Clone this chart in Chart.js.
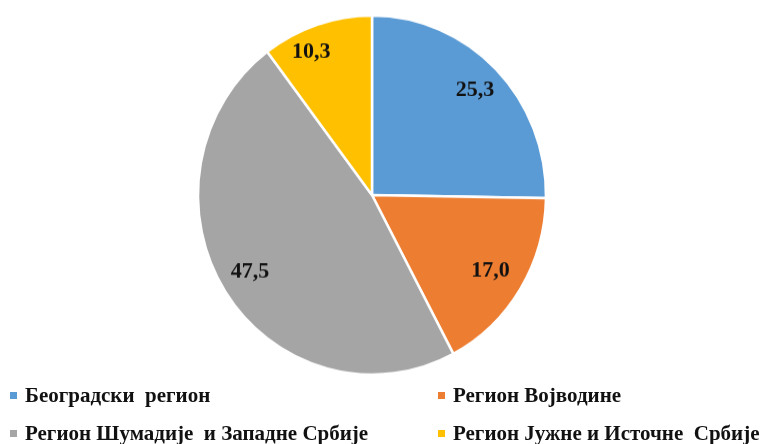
<!DOCTYPE html>
<html>
<head>
<meta charset="utf-8">
<script src="https://cdn.jsdelivr.net/npm/chart.js@4"></script>
<style>
  html, body { margin: 0; padding: 0; background: #fff; }
  #wrap { position: relative; width: 768px; height: 444px; overflow: hidden; }
  #pieBox { position: absolute; left: 0; top: 0; width: 768px; height: 430px;
            transform: scaleY(1.032); transform-origin: 0 0; }
  #c { display: block; }
  .lg { position: absolute; font: bold 21px "Liberation Serif", "Times New Roman", serif;
        color: #111; line-height: 21px; white-space: pre; }
  .sw { position: absolute; width: 7px; height: 7px; }
</style>
</head>
<body>
<div id="wrap">
  <div id="pieBox"><canvas id="c" width="768" height="430"></canvas></div>
  <div id="legend"></div>
</div>
<script>
// Regional shares, %
const regions = ['Београдски  регион', 'Регион Војводине', 'Регион Шумадије  и Западне Србије', 'Регион Јужне и Источне  Србије'];
const shares = [25.3, 17.0, 47.5, 10.3];
const colors = ['#5B9BD5', '#ED7D31', '#A5A5A5', '#FFC000'];

// Value labels inside each slice
const sliceLabels = {
  id: 'sliceLabels',
  afterDatasetsDraw(chart, args, opts) {
    const ctx = chart.ctx;
    const meta = chart.getDatasetMeta(0);
    ctx.save();
    ctx.font = 'bold 22px "Liberation Serif", "Times New Roman", serif';
    ctx.fillStyle = '#111';
    ctx.textAlign = 'center';
    ctx.textBaseline = 'middle';
    meta.data.forEach((arc, i) => {
      const p = arc.getProps(['x', 'y', 'startAngle', 'endAngle', 'outerRadius'], true);
      const mid = (p.startAngle + p.endAngle) / 2 + opts.turn[i];
      const r = p.outerRadius * opts.factors[i];
      const txt = chart.data.datasets[0].data[i].toFixed(1).replace('.', ',');
      ctx.fillText(txt, p.x + Math.cos(mid) * r, p.y + Math.sin(mid) * r);
    });
    ctx.restore();
  }
};

new Chart(document.getElementById('c'), {
  type: 'pie',
  data: {
    labels: regions,
    datasets: [{
      data: shares,
      backgroundColor: colors,
      borderColor: '#ffffff',
      borderWidth: 2.5
    }]
  },
  options: {
    responsive: false,
    animation: false,
    devicePixelRatio: 1,
    radius: 174,
    layout: { padding: { left: 0, right: 24, top: 10, bottom: 62 } },
    plugins: {
      legend: { display: false },
      tooltip: { enabled: false },
      sliceLabels: { factors: [0.83, 0.8, 0.82, 0.87], turn: [0, 0, 0.02, -0.09] }
    }
  },
  plugins: [sliceLabels]
});

// Two-column legend built from the same arrays
const legend = document.getElementById('legend');
const cols = [10, 438];
const rows = [392, 430];
regions.forEach((name, i) => {
  const cx = cols[i % 2], ry = rows[Math.floor(i / 2)];
  const sw = document.createElement('div');
  sw.className = 'sw';
  sw.style.left = cx + 'px';
  sw.style.top = ry + 'px';
  sw.style.background = colors[i];
  legend.appendChild(sw);
  const t = document.createElement('div');
  t.className = 'lg';
  t.style.left = (cx + 15) + 'px';
  t.style.top = (ry - 7) + 'px';
  t.textContent = name;
  legend.appendChild(t);
});
</script>
</body>
</html>
